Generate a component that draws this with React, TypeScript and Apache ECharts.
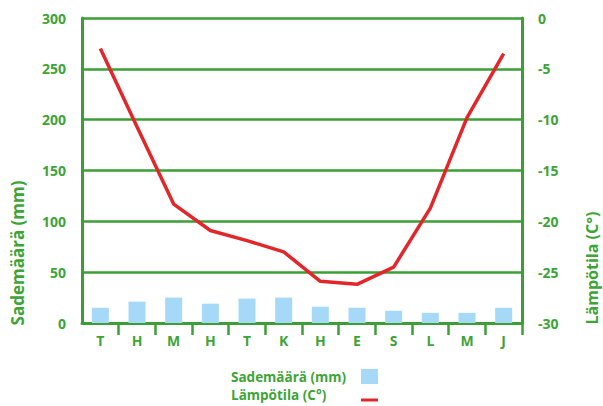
import React, { useEffect, useRef } from "react";
import * as echarts from "echarts";

const months = ["T", "H", "M", "H", "T", "K", "H", "E", "S", "L", "M", "J"];
const precipitation = [15, 21, 25, 19, 24, 25, 16, 15, 12, 10, 10, 15];
const temperature = [-3.0, -10.7, -18.3, -20.9, -21.9, -23.0, -25.9, -26.2, -24.5, -18.7, -9.8, -3.5];
const precipTicks = { min: 0, max: 300, interval: 50 };
const tempTicks = { min: -30, max: 0, interval: 5 };
const legendNames = ["Sademäärä (mm)", "Lämpötila (C°)"];

const GREEN = "#3ea437";
const LINE_GREEN = "#3b9f36";
const RED = "#e3262a";
const BLUE = "#a6d9f7";
const FONT = "'Open Sans', 'Noto Sans', sans-serif";

export default function App() {
  const ref = useRef<HTMLDivElement>(null);
  useEffect(() => {
    if (!ref.current) return;
    const chart = echarts.init(ref.current, undefined, { renderer: "svg" });
    chart.setOption({
      animation: false,
      backgroundColor: "#ffffff",
      textStyle: { fontFamily: FONT },
      grid: { left: 82, top: 18, right: 81, bottom: 83, containLabel: false },
      xAxis: {
        type: "category",
        data: months,
        boundaryGap: true,
        axisLine: { show: true, lineStyle: { color: LINE_GREEN, width: 3 } },
        axisTick: {
          show: true,
          length: 12,
          interval: (i: number) => i !== 0,
          lineStyle: { color: LINE_GREEN, width: 2.5 },
        },
        axisLabel: { color: GREEN, fontWeight: "bold", fontSize: 14, margin: 10, fontFamily: FONT },
        splitLine: { show: false },
      },
      yAxis: [
        {
          type: "value",
          min: precipTicks.min,
          max: precipTicks.max,
          interval: precipTicks.interval,
          axisLine: { show: true, lineStyle: { color: LINE_GREEN, width: 3 } },
          axisTick: { show: false },
          axisLabel: { color: GREEN, fontWeight: "bold", fontSize: 14, margin: 16, fontFamily: FONT },
          splitLine: { show: true, lineStyle: { color: LINE_GREEN, width: 2.5 } },
        },
        {
          type: "value",
          position: "right",
          min: tempTicks.min,
          max: tempTicks.max,
          interval: tempTicks.interval,
          axisLine: { show: true, lineStyle: { color: LINE_GREEN, width: 3 } },
          axisTick: { show: false },
          axisLabel: { color: GREEN, fontWeight: "bold", fontSize: 14, margin: 16, fontFamily: FONT, align: "left" },
          splitLine: { show: false },
        },
      ],
      graphic: [
        {
          type: "text",
          x: 17,
          y: 253,
          rotation: Math.PI / 2,
          style: {
            text: "Sademäärä (mm)",
            fill: GREEN,
            font: `bold 17px ${FONT}`,
            textAlign: "center",
            textVerticalAlign: "middle",
          },
        },
        {
          type: "text",
          x: 592,
          y: 268,
          rotation: Math.PI / 2,
          style: {
            text: "Lämpötila (C°)",
            fill: GREEN,
            font: `bold 16px ${FONT}`,
            textAlign: "center",
            textVerticalAlign: "middle",
          },
        },
        {
          type: "text",
          x: 231,
          y: 377,
          style: {
            text: legendNames[0],
            fill: GREEN,
            font: `bold 13.5px ${FONT}`,
            textAlign: "left",
            textVerticalAlign: "middle",
          },
        },
        {
          type: "rect",
          shape: { x: 361, y: 369, width: 17, height: 15 },
          style: { fill: BLUE },
        },
        {
          type: "text",
          x: 231,
          y: 395,
          style: {
            text: legendNames[1],
            fill: GREEN,
            font: `bold 13.5px ${FONT}`,
            textAlign: "left",
            textVerticalAlign: "middle",
          },
        },
        {
          type: "line",
          shape: { x1: 361, y1: 400, x2: 378, y2: 400 },
          style: { stroke: RED, lineWidth: 3 },
        },
      ],
      series: [
        {
          name: legendNames[0],
          type: "bar",
          yAxisIndex: 0,
          data: precipitation,
          barWidth: 17,
          itemStyle: { color: BLUE },
        },
        {
          name: legendNames[1],
          type: "line",
          yAxisIndex: 1,
          data: temperature,
          symbol: "none",
          lineStyle: { color: RED, width: 3.5 },
          itemStyle: { color: RED },
        },
      ],
    });
    return () => chart.dispose();
  }, []);
  return <div ref={ref} style={{ width: 603, height: 406, position: "absolute", left: 0, top: 0 }} />;
}
